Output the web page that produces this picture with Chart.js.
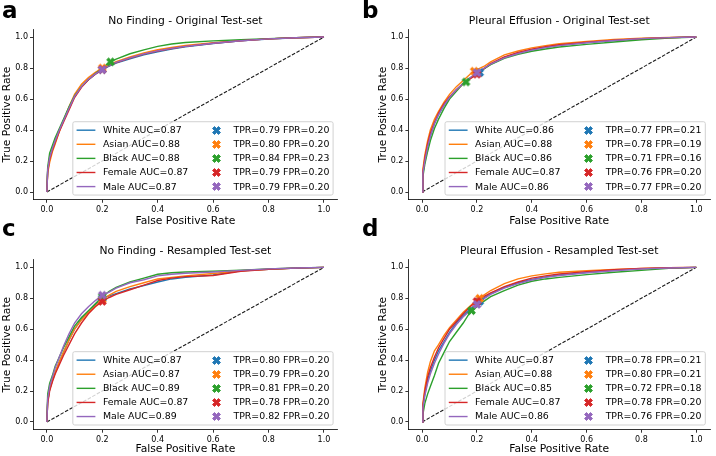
<!DOCTYPE html>
<html>
<head>
<meta charset="utf-8">
<script src="https://cdn.jsdelivr.net/npm/chart.js@4.4.1/dist/chart.umd.min.js"></script>
<style>
  html, body { margin: 0; padding: 0; background: #fff; }
  #wrap { position: relative; width: 716px; height: 456px; overflow: hidden; }
  #wrap canvas { position: absolute; }
  .letter { position: absolute; font-family: 'DejaVu Sans'; font-weight: bold; font-size: 23px; line-height: 23px; color: #000; }
</style>
</head>
<body>
<div id="wrap">
  <canvas id="panelA" width="358" height="228" style="left:0;top:0"></canvas>
  <canvas id="panelB" width="358" height="228" style="left:358px;top:0"></canvas>
  <canvas id="panelC" width="358" height="228" style="left:0;top:228px"></canvas>
  <canvas id="panelD" width="358" height="228" style="left:358px;top:228px"></canvas>
  <div class="letter" style="left:2px;top:-1.5px">a</div>
  <div class="letter" style="left:362px;top:-1.5px">b</div>
  <div class="letter" style="left:2px;top:216.5px">c</div>
  <div class="letter" style="left:362px;top:216.5px">d</div>
</div>
<script>
// ROC curves per subgroup at a shared set of FPR values

const fprGrid = [0, 0.003, 0.01, 0.02, 0.03, 0.045, 0.06, 0.08, 0.1, 0.125, 0.15, 0.175, 0.2, 0.225, 0.25, 0.3, 0.35, 0.4, 0.45, 0.5, 0.6, 0.7, 0.8, 0.9, 1.0];
const axisTicks = [0, 0.2, 0.4, 0.6, 0.8, 1.0];
const groups = ['White', 'Asian', 'Black', 'Female', 'Male'];
const groupColors = ['#1f77b4', '#ff7f0e', '#2ca02c', '#d62728', '#9467bd'];

// a: No Finding - Original Test-set
const nfOrigWhite  = [0, 0.14, 0.22, 0.28, 0.33, 0.40, 0.46, 0.54, 0.615, 0.68, 0.725, 0.76, 0.79, 0.812, 0.832, 0.86, 0.885, 0.905, 0.922, 0.937, 0.958, 0.975, 0.987, 0.995, 1];
const nfOrigAsian  = [0, 0.12, 0.19, 0.26, 0.31, 0.39, 0.46, 0.55, 0.63, 0.695, 0.738, 0.772, 0.80, 0.82, 0.842, 0.872, 0.898, 0.918, 0.933, 0.946, 0.963, 0.977, 0.988, 0.995, 1];
const nfOrigBlack  = [0, 0.16, 0.25, 0.30, 0.35, 0.41, 0.47, 0.55, 0.62, 0.68, 0.725, 0.765, 0.80, 0.835, 0.858, 0.892, 0.917, 0.94, 0.955, 0.965, 0.975, 0.983, 0.99, 0.996, 1];
const nfOrigFemale = [0, 0.13, 0.21, 0.27, 0.32, 0.39, 0.45, 0.53, 0.61, 0.675, 0.725, 0.76, 0.79, 0.815, 0.835, 0.865, 0.89, 0.91, 0.926, 0.94, 0.96, 0.976, 0.988, 0.995, 1];
const nfOrigMale   = [0, 0.14, 0.22, 0.28, 0.33, 0.40, 0.46, 0.54, 0.617, 0.68, 0.727, 0.762, 0.79, 0.815, 0.836, 0.866, 0.891, 0.911, 0.927, 0.94, 0.96, 0.976, 0.988, 0.995, 1];
const nfOrigAuc = [0.87, 0.88, 0.88, 0.87, 0.87];
const nfOrigOpTpr = [0.79, 0.80, 0.84, 0.79, 0.79];
const nfOrigOpFpr = [0.20, 0.20, 0.23, 0.20, 0.20];

// b: Pleural Effusion - Original Test-set
const peOrigWhite  = [0, 0.12, 0.20, 0.29, 0.36, 0.44, 0.50, 0.56, 0.61, 0.66, 0.70, 0.735, 0.765, 0.795, 0.825, 0.868, 0.896, 0.918, 0.934, 0.946, 0.964, 0.978, 0.99, 0.996, 1];
const peOrigAsian  = [0, 0.15, 0.24, 0.33, 0.40, 0.47, 0.52, 0.58, 0.63, 0.68, 0.72, 0.76, 0.79, 0.81, 0.84, 0.885, 0.91, 0.93, 0.945, 0.957, 0.972, 0.985, 0.993, 0.997, 1];
const peOrigBlack  = [0, 0.10, 0.18, 0.26, 0.33, 0.41, 0.47, 0.54, 0.60, 0.65, 0.70, 0.735, 0.765, 0.795, 0.822, 0.862, 0.888, 0.908, 0.923, 0.936, 0.953, 0.968, 0.983, 0.994, 1];
const peOrigFemale = [0, 0.13, 0.22, 0.31, 0.38, 0.45, 0.51, 0.57, 0.615, 0.66, 0.70, 0.73, 0.76, 0.795, 0.828, 0.872, 0.9, 0.922, 0.938, 0.95, 0.966, 0.98, 0.99, 0.996, 1];
const peOrigMale   = [0, 0.12, 0.20, 0.29, 0.36, 0.44, 0.50, 0.56, 0.61, 0.66, 0.70, 0.737, 0.77, 0.798, 0.826, 0.866, 0.894, 0.916, 0.932, 0.945, 0.963, 0.978, 0.99, 0.996, 1];
const peOrigAuc = [0.86, 0.88, 0.86, 0.87, 0.86];
const peOrigOpTpr = [0.77, 0.78, 0.71, 0.76, 0.77];
const peOrigOpFpr = [0.21, 0.19, 0.16, 0.20, 0.20];

// c: No Finding - Resampled Test-set
const nfResWhite  = [0, 0.13, 0.21, 0.27, 0.32, 0.39, 0.45, 0.53, 0.60, 0.665, 0.715, 0.76, 0.80, 0.815, 0.83, 0.86, 0.882, 0.905, 0.925, 0.935, 0.95, 0.977, 0.987, 0.995, 1];
const nfResAsian  = [0, 0.13, 0.21, 0.27, 0.32, 0.39, 0.45, 0.53, 0.60, 0.66, 0.71, 0.75, 0.79, 0.82, 0.845, 0.875, 0.9, 0.925, 0.935, 0.945, 0.96, 0.978, 0.988, 0.995, 1];
const nfResBlack  = [0, 0.18, 0.25, 0.30, 0.36, 0.42, 0.48, 0.55, 0.62, 0.675, 0.72, 0.765, 0.81, 0.845, 0.87, 0.905, 0.93, 0.955, 0.965, 0.97, 0.975, 0.982, 0.99, 0.996, 1];
const nfResFemale = [0, 0.12, 0.20, 0.26, 0.31, 0.37, 0.43, 0.50, 0.57, 0.64, 0.70, 0.745, 0.78, 0.805, 0.825, 0.855, 0.885, 0.915, 0.93, 0.94, 0.947, 0.975, 0.987, 0.995, 1];
const nfResMale   = [0, 0.15, 0.23, 0.29, 0.35, 0.42, 0.49, 0.57, 0.64, 0.70, 0.745, 0.785, 0.82, 0.84, 0.865, 0.9, 0.92, 0.945, 0.955, 0.962, 0.97, 0.98, 0.99, 0.996, 1];
const nfResAuc = [0.87, 0.87, 0.89, 0.87, 0.89];
const nfResOpTpr = [0.80, 0.79, 0.81, 0.78, 0.82];
const nfResOpFpr = [0.20, 0.20, 0.20, 0.20, 0.20];

// d: Pleural Effusion - Resampled Test-set
const peResWhite  = [0, 0.10, 0.18, 0.27, 0.33, 0.40, 0.46, 0.52, 0.58, 0.64, 0.69, 0.73, 0.765, 0.8, 0.83, 0.87, 0.9, 0.922, 0.938, 0.95, 0.967, 0.98, 0.99, 0.996, 1];
const peResAsian  = [0, 0.12, 0.22, 0.32, 0.39, 0.46, 0.50, 0.56, 0.61, 0.66, 0.71, 0.75, 0.79, 0.82, 0.85, 0.895, 0.925, 0.945, 0.958, 0.968, 0.978, 0.986, 0.993, 0.997, 1];
const peResBlack  = [0, 0.05, 0.12, 0.18, 0.23, 0.30, 0.38, 0.45, 0.52, 0.58, 0.64, 0.71, 0.745, 0.78, 0.81, 0.85, 0.885, 0.91, 0.925, 0.935, 0.953, 0.968, 0.98, 0.993, 1];
const peResFemale = [0, 0.11, 0.20, 0.29, 0.35, 0.42, 0.48, 0.54, 0.60, 0.65, 0.70, 0.745, 0.78, 0.81, 0.835, 0.875, 0.905, 0.93, 0.945, 0.957, 0.972, 0.984, 0.992, 0.997, 1];
const peResMale   = [0, 0.09, 0.17, 0.25, 0.31, 0.38, 0.44, 0.51, 0.57, 0.63, 0.68, 0.72, 0.76, 0.795, 0.825, 0.865, 0.895, 0.918, 0.935, 0.947, 0.965, 0.978, 0.99, 0.996, 1];
const peResAuc = [0.87, 0.88, 0.85, 0.87, 0.86];
const peResOpTpr = [0.78, 0.80, 0.72, 0.78, 0.76];
const peResOpFpr = [0.21, 0.21, 0.18, 0.20, 0.20];

const FONT = 'DejaVu Sans';

// filled 'X' marker like matplotlib's, as an image for pointStyle
function makeXMarker(color, size) {
    const dim = Math.ceil(size + 3);
    const c = document.createElement('canvas');
    c.width = dim; c.height = dim;
    const ctx = c.getContext('2d');
    const k = size / 4;
    const verts = [[-1,-2],[0,-1],[1,-2],[2,-1],[1,0],[2,1],[1,2],[0,1],[-1,2],[-2,1],[-1,0],[-2,-1]];
    ctx.translate(dim / 2, dim / 2);
    ctx.beginPath();
    verts.forEach(([vx, vy], i) => i ? ctx.lineTo(vx * k, vy * k) : ctx.moveTo(vx * k, vy * k));
    ctx.closePath();
    ctx.fillStyle = color;
    ctx.fill();
    ctx.strokeStyle = color;
    ctx.lineWidth = 0.9;
    ctx.stroke();
    return c;
}
const markerImgs = groupColors.map(c => makeXMarker(c, 8));

// two-column legend drawn in the lower right of the plot area
const insideLegend = {
    id: 'insideLegend',
    afterDatasetsDraw(chart, args, opts) {
        const {ctx, chartArea} = chart;
        const f = opts.fontSize;
        ctx.save();
        ctx.font = `${f}px "${FONT}"`;
        const w1 = Math.max(...opts.left.map(t => ctx.measureText(t).width));
        const w2 = Math.max(...opts.right.map(t => ctx.measureText(t).width));
        const pad = 0.4 * f, hl = 2 * f, hp = 0.8 * f, cs = 2 * f, ls = 0.5 * f;
        const n = opts.left.length;
        const boxW = 2 * pad + hl + hp + w1 + cs + hl + hp + w2;
        const boxH = 2 * pad + n * f + (n - 1) * ls;
        const x0 = chartArea.right - 0.5 * f - boxW;
        const y0 = chartArea.bottom - 0.5 * f - boxH;

        ctx.beginPath();
        ctx.roundRect(x0, y0, boxW, boxH, 0.2 * f);
        ctx.fillStyle = 'rgba(255,255,255,0.8)';
        ctx.fill();
        ctx.strokeStyle = '#cccccc';
        ctx.lineWidth = 0.9;
        ctx.stroke();

        ctx.textBaseline = 'middle';
        ctx.textAlign = 'left';
        const colX1 = x0 + pad;
        const colX2 = colX1 + hl + hp + w1 + cs;
        for (let i = 0; i < n; i++) {
            const cy = y0 + pad + i * (f + ls) + f / 2;
            ctx.beginPath();
            ctx.moveTo(colX1, cy);
            ctx.lineTo(colX1 + hl, cy);
            ctx.strokeStyle = groupColors[i];
            ctx.lineWidth = 1.4;
            ctx.stroke();
            ctx.fillStyle = '#000';
            ctx.fillText(opts.left[i], colX1 + hl + hp, cy + 0.5);
            const img = markerImgs[i];
            ctx.drawImage(img, Math.round(colX2 + hl / 2 - img.width / 2), Math.round(cy - img.height / 2));
            ctx.fillText(opts.right[i], colX2 + hl + hp, cy + 0.5);
        }
        ctx.restore();
    }
};

function scaleOpts(label, isX, p) {
    return {
        type: 'linear',
        min: -0.05,
        max: 1.05,
        afterBuildTicks: s => { s.ticks = axisTicks.map(v => ({value: v})); },
        afterFit: s => { if (isX) s.height = p.xh; else s.width = p.yw; },
        ticks: {
            font: {family: FONT, size: 8},
            color: '#000',
            padding: 2,
            maxRotation: 0,
            autoSkip: false,
            callback: v => v.toFixed(1)
        },
        grid: {drawOnChartArea: false, drawTicks: true, tickLength: 3, color: '#000', lineWidth: 0.8},
        border: {display: true, color: '#000', width: 0.8},
        title: {
            display: true,
            text: label,
            color: '#000',
            font: {family: FONT, size: 10.75},
            padding: isX ? {top: 0, bottom: p.xtb} : {top: p.ytp, bottom: 0}
        }
    };
}

function renderPanel(id, title, tprs, auc, opTpr, opFpr, p) {
    const ctx = document.getElementById(id).getContext('2d');
    const lineSets = tprs.map((arr, i) => ({
        label: groups[i],
        data: fprGrid.map((x, j) => ({x, y: arr[j]})),
        borderColor: groupColors[i],
        borderWidth: 1.4,
        pointRadius: 0,
        tension: 0,
        fill: false,
        order: 14 - i
    }));
    const markerSets = opTpr.map((t, i) => ({
        label: groups[i] + ' op',
        data: [{x: opFpr[i], y: t}],
        showLine: false,
        pointStyle: markerImgs[i],
        pointRadius: 5,
        order: 4 - i
    }));
    const diag = {
        label: 'chance',
        data: [{x: 0, y: 0}, {x: 1, y: 1}],
        borderColor: '#1a1a1a',
        borderWidth: 1.1,
        borderDash: [3.6, 1.6],
        pointRadius: 0,
        order: 20
    };
    return new Chart(ctx, {
        type: 'line',
        data: {datasets: [diag, ...lineSets, ...markerSets]},
        options: {
            responsive: false,
            animation: false,
            events: [],
            devicePixelRatio: 1,
            layout: {padding: {left: 0, top: 0, bottom: 0, right: p.pr}},
            scales: {
                x: scaleOpts('False Positive Rate', true, p),
                y: scaleOpts('True Positive Rate', false, p)
            },
            plugins: {
                legend: {display: false},
                tooltip: {enabled: false},
                title: {
                    display: true,
                    text: title,
                    fullSize: false,
                    color: '#000',
                    font: {family: FONT, size: 10.75, weight: 'normal'},
                    padding: {top: p.ttp, bottom: p.ttb}
                },
                insideLegend: {
                    fontSize: 9.4,
                    left: groups.map((g, i) => `${g} AUC=${auc[i].toFixed(2)}`),
                    right: opTpr.map((t, i) => `TPR=${t.toFixed(2)} FPR=${opFpr[i].toFixed(2)}`)
                }
            }
        },
        plugins: [insideLegend]
    });
}

const topRow = {xh: 28.25, xtb: 0.5, ttp: 15.05, ttb: 1.35};
const bottomRow = {xh: 26.3, xtb: 0, ttp: 17.05, ttb: 1.65};
const leftCol = {yw: 33, ytp: 1, pr: 20.2};
const rightCol = {yw: 50.4, ytp: 18.5, pr: 2.4};

renderPanel('panelA', 'No Finding - Original Test-set',
    [nfOrigWhite, nfOrigAsian, nfOrigBlack, nfOrigFemale, nfOrigMale],
    nfOrigAuc, nfOrigOpTpr, nfOrigOpFpr, {...topRow, ...leftCol});
renderPanel('panelB', 'Pleural Effusion - Original Test-set',
    [peOrigWhite, peOrigAsian, peOrigBlack, peOrigFemale, peOrigMale],
    peOrigAuc, peOrigOpTpr, peOrigOpFpr, {...topRow, ...rightCol});
renderPanel('panelC', 'No Finding - Resampled Test-set',
    [nfResWhite, nfResAsian, nfResBlack, nfResFemale, nfResMale],
    nfResAuc, nfResOpTpr, nfResOpFpr, {...bottomRow, ...leftCol});
renderPanel('panelD', 'Pleural Effusion - Resampled Test-set',
    [peResWhite, peResAsian, peResBlack, peResFemale, peResMale],
    peResAuc, peResOpTpr, peResOpFpr, {...bottomRow, ...rightCol});
</script>
</body>
</html>
